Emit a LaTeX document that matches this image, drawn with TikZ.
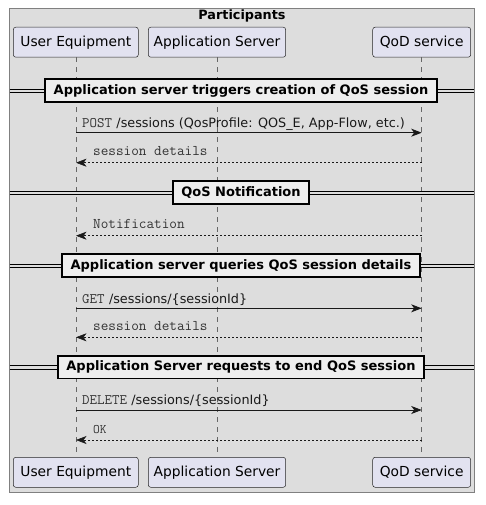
\documentclass[tikz,border=0pt]{standalone}
\usepackage{fontspec}
\setmainfont{DejaVu Sans}
\usetikzlibrary{arrows.meta}
\definecolor{bggray}{HTML}{DDDDDD}
\definecolor{framegray}{HTML}{808080}
\definecolor{partfill}{HTML}{E2E2F0}
\definecolor{divfill}{HTML}{EEEEEE}
\definecolor{monogray}{HTML}{333333}
\definecolor{linegray}{HTML}{666666}
\tikzset{
  participant/.style={draw=black!85, fill=partfill, rounded corners=2.5pt, minimum height=30pt, inner sep=0pt, line width=0.5pt, font=\fontsize{13.8}{15}\selectfont},
  lifeline/.style={draw=linegray, line width=0.5pt, dash pattern=on 5pt off 5pt},
  divline/.style={draw=black, line width=0.6pt},
  divbox/.style={draw=black, fill=divfill, line width=1.6pt, minimum height=22.5pt, inner xsep=8.5pt, inner ysep=0pt, font=\fontsize{13}{15}\selectfont\bfseries},
  msg/.style={draw=black!90, line width=0.8pt, -{Stealth[length=10.5pt,width=8pt,inset=3pt]}},
  ret/.style={draw=black!90, line width=0.55pt, dash pattern=on 2pt off 2pt, -{Stealth[length=10.5pt,width=8pt,inset=3pt]}},
  mono/.style={anchor=base west, inner sep=0pt, text=monogray, font=\fontsize{14.8}{16}\ttfamily},
  sans/.style={anchor=base west, inner sep=0pt, text=black!90, font=\fontsize{12.8}{14}\selectfont},
}
\begin{document}
\begin{tikzpicture}[x=1pt,y=-1pt]
\useasboundingbox (0,0) rectangle (485,505);
% outer frame
\draw[draw=framegray, fill=bggray, line width=0.8pt] (9.5,8) rectangle (474,492);
\node[font=\fontsize{12.8}{14}\selectfont\bfseries] (title) at (242,16) {Participants};
% participants
\node[participant, minimum width=125pt] (ueT) at (75.8,42.2) {User Equipment};
\node[participant, minimum width=137.4pt] (asT) at (217,42.2) {Application Server};
\node[participant, minimum width=98pt] (qodT) at (421.7,42.2) {QoD service};
\node[participant, minimum width=125pt] (ueB) at (75.8,472.3) {User Equipment};
\node[participant, minimum width=137.4pt] (asB) at (217,472.3) {Application Server};
\node[participant, minimum width=98pt] (qodB) at (421.7,472.3) {QoD service};
% lifelines
\draw[lifeline] (ueT.south) -- (ueB.north);
\draw[lifeline] (asT.south) -- (asB.north);
\draw[lifeline] (qodT.south) -- (qodB.north);
% dividers
\foreach \y/\n/\t in {90.5/d1/Application server triggers creation of QoS session,192.5/d2/QoS Notification,265.5/d3/Application server queries QoS session details,367.3/d4/Application Server requests to end QoS session}{
  \draw[divline] (9.5,\y-1.6) -- (474,\y-1.6);
  \draw[divline] (9.5,\y+1.6) -- (474,\y+1.6);
  \node[divbox] (\n) at (241,\y) {\t};
}
% messages
\coordinate (ue1) at (76,132.7); \coordinate (qod1) at (421.7,132.7);
\coordinate (ue2) at (76,162.7); \coordinate (qod2) at (421.7,162.7);
\coordinate (ue3) at (76,235.7); \coordinate (qod3) at (421.7,235.7);
\coordinate (ue4) at (76,308.3); \coordinate (qod4) at (421.7,308.3);
\coordinate (ue5) at (76,337.3); \coordinate (qod5) at (421.7,337.3);
\coordinate (ue6) at (76,410);   \coordinate (qod6) at (421.7,410);
\coordinate (ue7) at (76,440);   \coordinate (qod7) at (421.7,440);
\draw[msg] (ue1) -- (qod1);
\node[mono, font=\fontsize{14.5}{16}\ttfamily] (m1a) at (82,128) {POST};
\node[sans] (m1b) at ([xshift=4pt]m1a.base east) {/sessions (QosProfile: QOS\_E, App-Flow, etc.)};
\draw[ret] (qod2) -- (ue2);
\node[mono] (m2) at (93,156) {session details};
\draw[ret] (qod3) -- (ue3);
\node[mono] (m3) at (93,228.5) {Notification};
\draw[msg] (ue4) -- (qod4);
\node[mono, font=\fontsize{14.5}{16}\ttfamily] (m4a) at (82,303) {GET};
\node[sans] (m4b) at ([xshift=4pt]m4a.base east) {/sessions/\{sessionId\}};
\draw[ret] (qod5) -- (ue5);
\node[mono] (m5) at (93,330.5) {session details};
\draw[msg] (ue6) -- (qod6);
\node[mono, font=\fontsize{14.5}{16}\ttfamily] (m6a) at (82,404.5) {DELETE};
\node[sans] (m6b) at ([xshift=4pt]m6a.base east) {/sessions/\{sessionId\}};
\draw[ret] (qod7) -- (ue7);
\node[mono, font=\fontsize{13}{14}\ttfamily] (m7) at (93,433) {OK};
\end{tikzpicture}
\end{document}
